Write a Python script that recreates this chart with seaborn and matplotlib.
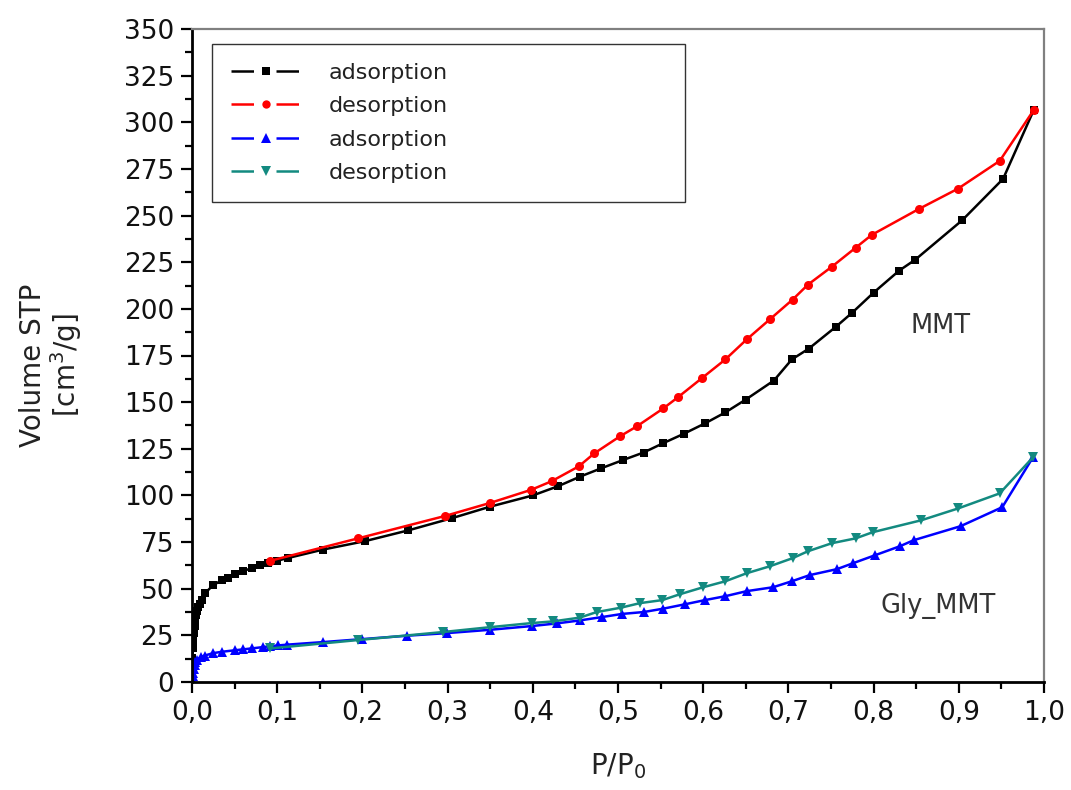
import matplotlib
matplotlib.use("Agg")
import matplotlib.pyplot as plt
from matplotlib.lines import Line2D
from matplotlib.ticker import MultipleLocator, FuncFormatter
import seaborn as sns
import pandas as pd

# ---------------- data ----------------
mmt_ads_x = [0.0005, 0.001, 0.0015, 0.002, 0.003, 0.0035, 0.005, 0.006, 0.007, 0.009,
             0.012, 0.015, 0.025, 0.035, 0.042, 0.05, 0.06, 0.07, 0.08, 0.089, 0.1,
             0.113, 0.154, 0.203, 0.254, 0.305, 0.35, 0.40, 0.43, 0.455, 0.48, 0.506,
             0.53, 0.553, 0.577, 0.602, 0.626, 0.65, 0.683, 0.704, 0.724, 0.756, 0.775,
             0.80, 0.83, 0.849, 0.904, 0.952, 0.988]
mmt_ads_y = [13, 18, 22, 26, 30, 33, 36, 38, 40, 42,
             44, 47.5, 52, 54.5, 56, 58, 59.5, 61, 62.6, 64, 65,
             66.5, 71, 75.5, 81.3, 87.8, 94, 100, 105, 110, 114.5, 119,
             123, 128, 133, 138.6, 144.5, 151.4, 161.6, 172.9, 178.7, 190.5, 198,
             208.7, 220.5, 226.4, 247.5, 269.7, 306.6]

mmt_des_x = [0.092, 0.195, 0.297, 0.35, 0.398, 0.422, 0.454, 0.472, 0.502, 0.522,
             0.553, 0.570, 0.598, 0.626, 0.651, 0.678, 0.705, 0.723, 0.751, 0.779,
             0.798, 0.853, 0.899, 0.948, 0.988]
mmt_des_y = [65, 77, 89, 96, 103, 107.6, 115.6, 122.5, 131.6, 137,
             146.6, 152.5, 162.7, 172.9, 183.6, 194.3, 205, 213, 222.6, 232.8,
             239.7, 253.5, 264.4, 279.3, 306.6]

gly_ads_x = [0.0003, 0.0008, 0.0012, 0.002, 0.003, 0.004, 0.006, 0.01, 0.015, 0.025,
             0.035, 0.05, 0.06, 0.07, 0.083, 0.092, 0.101, 0.111, 0.154, 0.2, 0.252,
             0.299, 0.35, 0.399, 0.428, 0.455, 0.481, 0.505, 0.53, 0.553, 0.579,
             0.602, 0.626, 0.651, 0.682, 0.704, 0.725, 0.757, 0.776, 0.802, 0.831,
             0.847, 0.902, 0.951, 0.987]
gly_ads_y = [1, 3, 5, 7, 9, 10.5, 12, 13.4, 14.2, 15.5,
             16.2, 17, 17.5, 18, 18.7, 19.2, 19.6, 20, 21.4, 23, 24.8,
             26.2, 28, 30, 31.4, 33, 34.8, 36.5, 37.5, 39.3, 41.7,
             43.9, 46, 48.7, 50.8, 54, 57.3, 60.5, 63.7, 68, 72.8,
             76, 83.5, 93.7, 120.4]

gly_des_x = [0.092, 0.195, 0.295, 0.35, 0.399, 0.424, 0.455, 0.475, 0.503, 0.526,
             0.552, 0.573, 0.600, 0.626, 0.651, 0.678, 0.705, 0.723, 0.751, 0.779,
             0.799, 0.856, 0.899, 0.948, 0.987]
gly_des_y = [18, 22.5, 26.8, 29.4, 31.6, 32.5, 34.5, 37.5, 39.8, 42.3,
             43.9, 47.1, 50.8, 54, 58.3, 62, 66.4, 70.1, 74.4, 77,
             80.3, 86.7, 93, 101.1, 120.4]

legend_labels = ["adsorption", "desorption", "adsorption", "desorption"]
sample_labels = ["MMT", "Gly_MMT"]
x_label = "P/P$_\\mathregular{0}$"
y_label = "Volume STP\n[cm$^\\mathregular{3}$/g]"

# ---------------- style ----------------
sns.set_theme(style="ticks")
plt.rcParams["font.family"] = ["DejaVu Sans"]

fig = plt.figure(figsize=(10.71, 7.90), dpi=100)
ax = fig.add_axes([0.1793, 0.1367, 0.9748 - 0.1793, 0.9633 - 0.1367])

series = [
    (mmt_ads_x, mmt_ads_y, "black", "s", 5.8),
    (mmt_des_x, mmt_des_y, "#ff0000", "o", 6.5),
    (gly_ads_x, gly_ads_y, "#0000ff", "^", 7.5),
    (gly_des_x, gly_des_y, "#138a80", "v", 7.5),
]
for xs, ys, col, mk, ms in series:
    df = pd.DataFrame({"x": xs, "y": ys})
    sns.lineplot(data=df, x="x", y="y", ax=ax, color=col, marker=mk,
                 markersize=ms, markeredgewidth=0, linewidth=1.8,
                 sort=False, estimator=None)

ax.set_xlim(0, 1.0)
ax.set_ylim(0, 350)
ax.xaxis.set_major_locator(MultipleLocator(0.1))
ax.xaxis.set_minor_locator(MultipleLocator(0.05))
ax.yaxis.set_major_locator(MultipleLocator(25))
ax.yaxis.set_minor_locator(MultipleLocator(12.5))
ax.xaxis.set_major_formatter(FuncFormatter(lambda v, p: f"{v:.1f}".replace(".", ",")))
ax.yaxis.set_major_formatter(FuncFormatter(lambda v, p: f"{v:.0f}"))

ax.tick_params(axis="both", which="major", direction="out", length=8, width=1.6,
               labelsize=19, color="black", labelcolor="#111111", pad=5)
ax.tick_params(axis="both", which="minor", direction="out", length=5, width=1.6,
               color="black")
ax.tick_params(top=False, right=False, which="both")

for s in ["left", "bottom"]:
    ax.spines[s].set_color("black")
    ax.spines[s].set_linewidth(2.0)
for s in ["top", "right"]:
    ax.spines[s].set_color("#808080")
    ax.spines[s].set_linewidth(1.6)

ax.set_xlabel(x_label, fontsize=20, color="#222222", labelpad=18)
ax.set_ylabel(y_label, fontsize=20, color="#222222", linespacing=1.05)
ax.yaxis.set_label_coords(-0.127, 0.485)

ax.text(0.878, 191, sample_labels[0], fontsize=18.5, color="#333333",
        ha="center", va="center")
ax.text(0.876, 41, sample_labels[1], fontsize=18.5, color="#333333",
        ha="center", va="center")

handles = []
for (_, _, col, mk, ms) in series:
    handles.append(Line2D([], [], color=col, marker=mk, markersize=ms - 0.5,
                          markeredgewidth=0, linewidth=1.8,
                          linestyle=(0, (9, 9))))
leg = ax.legend(handles, legend_labels, loc="upper left",
                bbox_to_anchor=(0.0235, 0.745, 0.555, 0.232), mode="expand",
                fontsize=16, frameon=True, fancybox=False, edgecolor="black",
                handlelength=3.2, handletextpad=1.2, borderpad=0.85,
                labelspacing=0.6, borderaxespad=0)
leg.get_frame().set_linewidth(1.0)
for t in leg.get_texts():
    t.set_color("#222222")

fig.savefig("out.png", dpi=100, facecolor="white")
